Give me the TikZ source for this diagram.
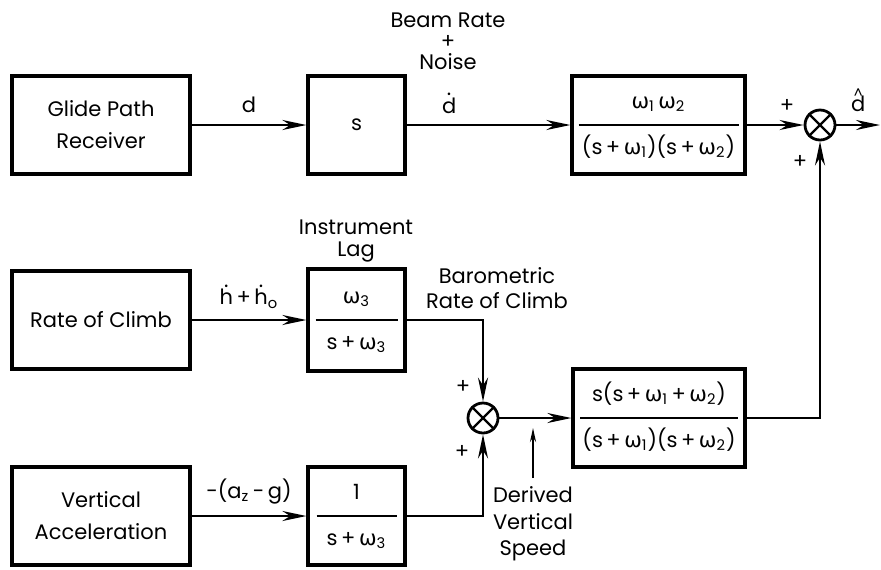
\documentclass[tikz,border=0pt]{standalone}
\usepackage{fontspec}
\usepackage{amsmath}
\setmainfont{Poppins}
\newfontfamily\grkfont{DejaVu Sans}
\usetikzlibrary{arrows.meta}

\newcommand\om[1]{{\grkfont ω}\textsubscript{#1}}
\newcommand\dotl[1]{\ooalign{#1\cr\hidewidth\raisebox{0.82em}{.}\hidewidth\cr}}
\newcommand\hatd[1]{\ooalign{#1\cr\hidewidth\raisebox{0.62em}{\scriptsize\textasciicircum}\hidewidth\cr}}
\newcommand\tf[3]{\begin{tabular}{@{}c@{}}\makebox[#1]{#2}\\[3pt]\hline\rule{0pt}{14pt}#3\end{tabular}}
\setlength\arrayrulewidth{1.1pt}

\begin{document}
\begin{tikzpicture}[
    x=0.5pt, y=-0.5pt,
    every node/.style={font=\fontsize{10.5}{12}\selectfont, align=center},
    block/.style={rectangle, draw, line width=1.6pt, minimum width=#1, minimum height=49pt,
                  inner sep=0pt, font=\fontsize{10.5}{16}\selectfont},
    block/.default=48.5pt,
    sumjn/.style={circle, draw, line width=1.4pt, minimum size=15pt, inner sep=0pt},
    sig/.style={line width=1.2pt, -{Stealth[length=12pt,width=5pt]}}
]
\useasboundingbox (0,0) rectangle (881,569);

% blocks
\node [block=89pt] (gpr) at (101,125) {Glide Path\\Receiver};
\node [block] (sbox) at (356.5,125) {s};
\node [block=86.5pt] (filt1) at (658.5,125) {\tf{80pt}{\om1\,\om2}{(s\,+\,\om1)(s\,+\,\om2)}};
\node [sumjn] (sum1) at (820,125) {};

\node [block=89pt] (roc) at (101,320) {Rate of Climb};
\node [block, minimum height=51pt] (lag) at (356.5,320) {\tf{41pt}{\om3}{s\,+\,\om3}};
\node [sumjn] (sum2) at (483,418) {};
\node [block=86pt] (filt2) at (659,418) {\tf{79pt}{s(s\,+\,\om1\,+\,\om2)}{(s\,+\,\om1)(s\,+\,\om2)}};

\node [block=89pt] (va) at (101,516) {Vertical\\Acceleration};
\node [block] (integ) at (356.5,516) {\tf{40pt}{1}{s\,+\,\om3}};

% summing junction crosses
\foreach \s in {sum1,sum2}
    \draw [line width=1.2pt] (\s.north east) -- (\s.south west)
                             (\s.north west) -- (\s.south east);

% signals
\coordinate (out) at (880,125);
\draw [sig] (gpr) -- node [above=2pt] {d} (sbox);
\draw [sig] (sbox) -- node [pos=0.26, above=2pt] {\dotl{d}} (filt1);
\draw [sig] (filt1) -- (sum1);
\draw [sig] (sum1) -- node [above=3pt] {\hatd{d}} (out);
\draw [sig] (roc) -- node [above=2pt] {\dotl{h}\,+\,\dotl{h}\textsubscript{o}} (lag);
\draw [sig] (lag) -| (sum2);
\draw [sig] (va) -- node [above=2pt] {-(a\textsubscript{z}\,-\,g)} (integ);
\draw [sig] (integ) -| (sum2);
\draw [sig] (sum2) -- (filt2);
\draw [sig] (filt2) -| (sum1);

% pointer to derived speed
\coordinate (dvsTail) at (533,478);
\coordinate (dvsHead) at (533,428);
\draw [line width=1pt, -{Stealth[length=7pt,width=3pt]}] (dvsTail) -- (dvsHead);

% labels
\node [font=\fontsize{10.5}{10.5}\selectfont] (beam) at (448,41) {Beam Rate\\+\\Noise};
\node [font=\fontsize{10.5}{11}\selectfont] (inslag) at (356,241) {Instrument\\Lag};
\node [font=\fontsize{10.5}{12.5}\selectfont] (baro) at (497,288) {Barometric\\Rate of Climb};
\node [font=\fontsize{10.5}{13.3}\selectfont] (dvs) at (533,524) {Derived\\Vertical\\Speed};
\node (p1) at (787,106) {+};
\node (p2) at (800,162) {+};
\node (p3) at (463,387) {+};
\node (p4) at (462,452) {+};

\end{tikzpicture}
\end{document}
